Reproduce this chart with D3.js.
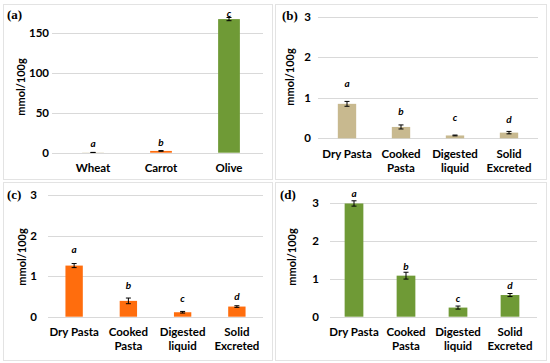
<!DOCTYPE html>
<html>
<head>
<meta charset="utf-8">
<script src="https://cdn.jsdelivr.net/npm/d3@7"></script>
<style>
  body { margin: 0; background: #fff; }
  svg { display: block; }
</style>
</head>
<body>
<div id="chart"></div>
<script>
// Panel (a): raw foods
const foodLabels = [["Wheat"], ["Carrot"], ["Olive"]];
const foodValues = [0.3, 2.2, 167];
const foodErrors = [0.1, 0.4, 2];
const foodLetters = ["a", "b", "c"];
const foodLetterLevels = [11, 12.5, 174];
const foodTicks = [0, 50, 100, 150];

// Panels (b)-(d): pasta stages
const pastaLabels = [["Dry Pasta"], ["Cooked", "Pasta"], ["Digested", "liquid"], ["Solid", "Excreted"]];
const pastaLetters = ["a", "b", "c", "d"];
const pastaTicks = [0, 1, 2, 3];

const wheatValues = [0.85, 0.28, 0.07, 0.14];
const wheatErrors = [0.06, 0.05, 0.01, 0.03];
const wheatLetterLevels = [1.36, 0.67, 0.52, 0.47];

const carrotValues = [1.26, 0.39, 0.11, 0.25];
const carrotErrors = [0.05, 0.07, 0.02, 0.02];
const carrotLetterLevels = [1.66, 0.78, 0.45, 0.51];

const oliveValues = [2.98, 1.08, 0.24, 0.57];
const oliveErrors = [0.07, 0.09, 0.04, 0.04];
const oliveLetterLevels = [3.23, 1.32, 0.48, 0.83];

const tan = '#c8b98f';
const orange = '#ff6d0d';
const green = '#6f9a36';

const svgWidth = 550;
const svgHeight = 363;

const svg = d3.select('#chart')
    .append('svg')
    .attr('width', svgWidth)
    .attr('height', svgHeight);

const font = "Lato, 'Open Sans', sans-serif";

const drawPanel = function(p) {
    // panel frame
    svg.append('rect')
        .attr('x', p.frame[0] + 0.5)
        .attr('y', p.frame[1] + 0.5)
        .attr('width', p.frame[2])
        .attr('height', p.frame[3])
        .attr('fill', 'none')
        .attr('stroke', '#e3e3e3');

    const g = svg.append('g');

    const yScale = d3.scaleLinear()
        .domain(p.yDomain)
        .range(p.yRange);

    const xScale = d3.scaleBand()
        .domain(d3.range(p.values.length))
        .range(p.xRange)
        .paddingInner(p.pad)
        .paddingOuter(p.pad / 2);

    // gridlines
    g.selectAll('.grid')
        .data(p.ticks)
        .enter()
        .append('line')
        .attr('x1', p.gridX[0])
        .attr('x2', p.gridX[1])
        .attr('y1', d => Math.round(yScale(d)) + 0.5)
        .attr('y2', d => Math.round(yScale(d)) + 0.5)
        .attr('stroke', '#d9d9d9')
        .attr('stroke-width', 1);

    // y tick labels
    const yAxis = d3.axisLeft(yScale)
        .tickValues(p.ticks)
        .tickFormat(d3.format('d'))
        .tickSize(0)
        .tickPadding(0);
    const axisG = g.append('g')
        .attr('transform', `translate(${p.tickX}, 0)`)
        .call(yAxis);
    axisG.select('.domain').remove();
    axisG.selectAll('text')
        .attr('font-family', font)
        .attr('font-weight', 'bold')
        .attr('font-size', 11.5)
        .attr('fill', '#000');

    // bars
    g.selectAll('.bar')
        .data(p.values)
        .enter()
        .append('rect')
        .attr('x', (d, i) => xScale(i))
        .attr('width', xScale.bandwidth())
        .attr('y', d => yScale(d))
        .attr('height', d => yScale(0) - yScale(d))
        .attr('fill', (d, i) => p.colors[i]);

    // error bars
    const cap = 2.5;
    p.values.forEach((v, i) => {
        const cx = xScale(i) + xScale.bandwidth() / 2;
        const y1 = yScale(v + p.errors[i]);
        const y2 = yScale(v - p.errors[i]);
        g.append('line').attr('x1', cx).attr('x2', cx).attr('y1', y1).attr('y2', y2)
            .attr('stroke', '#000').attr('stroke-width', 1);
        [y1, y2].forEach(yy => {
            g.append('line').attr('x1', cx - cap).attr('x2', cx + cap).attr('y1', yy).attr('y2', yy)
                .attr('stroke', '#000').attr('stroke-width', 1);
        });
    });

    // significance letters
    g.selectAll('.letter')
        .data(p.letters)
        .enter()
        .append('text')
        .attr('x', (d, i) => xScale(i) + xScale.bandwidth() / 2)
        .attr('y', (d, i) => yScale(p.letterLevels[i]))
        .attr('dy', '0.35em')
        .attr('text-anchor', 'middle')
        .attr('font-family', font)
        .attr('font-style', 'italic')
        .attr('font-weight', 'bold')
        .attr('font-size', 10)
        .text(d => d);

    // category labels
    p.labels.forEach((lines, i) => {
        const cx = xScale(i) + xScale.bandwidth() / 2;
        lines.forEach((line, j) => {
            g.append('text')
                .attr('x', cx)
                .attr('y', p.labelY + j * 14)
                .attr('text-anchor', 'middle')
                .attr('font-family', font)
                .attr('font-weight', 'bold')
                .attr('font-size', 11.5)
                .text(line);
        });
    });

    // y axis title
    g.append('text')
        .attr('transform', `translate(${p.titlePos[0]}, ${p.titlePos[1]}) rotate(-90)`)
        .attr('text-anchor', 'middle')
        .attr('dy', '0.35em')
        .attr('font-family', font)
        .attr('font-weight', 'bold')
        .attr('font-size', 11)
        .text('mmol/100g');

    // panel tag
    g.append('text')
        .attr('x', p.tagPos[0])
        .attr('y', p.tagPos[1])
        .attr('font-family', "'Liberation Serif', 'Times New Roman', serif")
        .attr('font-weight', 'bold')
        .attr('font-size', 13)
        .text(p.tag);
};

drawPanel({
    tag: '(a)', tagPos: [7, 19], frame: [3, 4, 269, 175],
    labels: foodLabels, values: foodValues, errors: foodErrors,
    letters: foodLetters, letterLevels: foodLetterLevels, ticks: foodTicks,
    colors: [tan, orange, green],
    yDomain: [0, 180], yRange: [152.7, 8.7],
    xRange: [59, 263], pad: 0.68, gridX: [52, 263], tickX: 49,
    labelY: 172, titlePos: [21, 87]
});

drawPanel({
    tag: '(b)', tagPos: [282, 20], frame: [275, 4, 271, 175],
    labels: pastaLabels, values: wheatValues, errors: wheatErrors,
    letters: pastaLetters, letterLevels: wheatLetterLevels, ticks: pastaTicks,
    colors: [tan, tan, tan, tan],
    yDomain: [0, 3], yRange: [138.3, 16.7],
    xRange: [320, 536], pad: 0.66, gridX: [318, 538], tickX: 311,
    labelY: 158, titlePos: [290, 77]
});

drawPanel({
    tag: '(c)', tagPos: [7, 199], frame: [3, 182, 269, 178],
    labels: pastaLabels, values: carrotValues, errors: carrotErrors,
    letters: pastaLetters, letterLevels: carrotLetterLevels, ticks: pastaTicks,
    colors: [orange, orange, orange, orange],
    yDomain: [0, 3], yRange: [316.7, 195],
    xRange: [47, 264], pad: 0.68, gridX: [48, 263], tickX: 37,
    labelY: 336, titlePos: [22, 257]
});

drawPanel({
    tag: '(d)', tagPos: [280, 199], frame: [275, 182, 271, 178],
    labels: pastaLabels, values: oliveValues, errors: oliveErrors,
    letters: pastaLetters, letterLevels: oliveLetterLevels, ticks: pastaTicks,
    colors: [green, green, green, green],
    yDomain: [0, 3], yRange: [316.7, 202.7],
    xRange: [328, 536], pad: 0.64, gridX: [330, 537], tickX: 319,
    labelY: 336, titlePos: [292, 257]
});
</script>
</body>
</html>
